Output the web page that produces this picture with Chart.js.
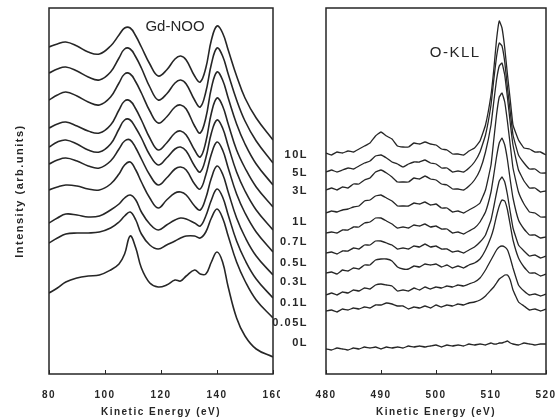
<!DOCTYPE html>
<html>
<head>
<meta charset="utf-8">
<script src="https://cdn.jsdelivr.net/npm/chart.js@4.4.1/dist/chart.umd.min.js"></script>
<style>
  html, body { margin: 0; padding: 0; background: #fff; }
  #wrap { position: relative; width: 560px; height: 420px; overflow: hidden; }
  .panel { position: absolute; top: 0; height: 420px; }
</style>
</head>
<body>
<div id="wrap">
  <div class="panel" style="left:0;width:280px"><canvas id="gd"></canvas></div>
  <div class="panel" style="left:262px;width:298px"><canvas id="ok"></canvas></div>
</div>
<script>
// oxygen exposure, top curve to bottom curve
const doses = ["10L", "5L", "3L", "1L", "0.7L", "0.5L", "0.3L", "0.1L", "0.05L", "0L"];
// where each dose label sits on the O-KLL intensity axis
const doseLabelLevels = [219, 201, 183, 152, 132, 111, 92, 71, 51, 31];

// Gd-NOO panel, kinetic energy (eV)
const gdEnergy = [80, 83, 86, 90, 94, 98, 102, 105, 107, 109, 111, 113, 116, 119, 122, 125, 127, 129, 132, 134, 136, 138, 140, 142, 144, 147, 150, 154, 160];
const gd10L  = [327, 330, 332, 328, 322, 320, 328, 339, 346, 346, 338, 327, 310, 298, 304, 315, 318, 314, 298, 292, 306, 334, 348, 341, 324, 298, 276, 256, 234];
const gd5L   = [301, 305, 307, 303, 297, 294, 302, 316, 325, 325, 317, 306, 287, 274, 280, 291, 294, 290, 274, 267, 282, 310, 326, 318, 300, 274, 253, 233, 211];
const gd3L   = [274, 279, 282, 278, 272, 269, 277, 291, 300, 300, 292, 281, 263, 251, 257, 267, 269, 265, 248, 241, 256, 286, 302, 294, 276, 250, 230, 210, 189];
const gd1L   = [246, 250, 252, 248, 243, 241, 249, 264, 273, 273, 265, 254, 236, 224, 231, 241, 243, 239, 224, 217, 232, 261, 276, 268, 250, 224, 206, 187, 167];
const gd07L  = [227, 232, 234, 230, 224, 222, 230, 245, 254, 254, 246, 236, 219, 209, 216, 225, 227, 223, 208, 202, 216, 241, 254, 246, 228, 202, 183, 164, 144];
const gd05L  = [210, 214, 216, 213, 208, 206, 213, 225, 233, 234, 226, 215, 199, 189, 196, 205, 207, 204, 190, 185, 199, 220, 232, 224, 206, 180, 161, 142, 122];
const gd03L  = [184, 187, 189, 188, 185, 184, 190, 200, 209, 212, 204, 192, 176, 166, 174, 181, 182, 179, 168, 164, 176, 196, 208, 200, 182, 156, 137, 118, 99];
const gd01L  = [151, 156, 160, 159, 157, 158, 164, 170, 176, 179, 174, 162, 150, 144, 149, 154, 156, 155, 151, 148, 158, 174, 185, 177, 159, 133, 114, 95, 76];
const gd005L = [131, 136, 140, 141, 141, 142, 146, 152, 158, 162, 154, 140, 129, 125, 129, 133, 136, 138, 138, 136, 142, 156, 165, 156, 138, 112, 93, 74, 56];
const gd0L   = [81, 86, 92, 96, 98, 99, 104, 110, 120, 138, 126, 106, 91, 87, 89, 94, 93, 98, 104, 100, 100, 112, 122, 112, 87, 56, 38, 25, 17];

// O-KLL panel, kinetic energy (eV)
const oEnergy = [480, 481, 482, 483, 484, 485, 486, 487, 488, 489, 490, 491, 492, 493, 494, 495, 496, 497, 498, 499, 500, 501, 502, 503, 504, 505, 506,
                 507, 508, 509, 510, 510.5, 511, 511.5, 512, 512.5, 513, 513.5, 514, 515, 516, 517, 518, 519, 520];
const o10L  = [221, 219, 222, 221, 223, 222, 225, 228, 231, 238, 242, 238, 235, 228, 227, 227, 231, 230, 232, 230, 229, 225, 224, 220, 220, 219, 223,
               226, 233, 249, 279, 304, 334, 353, 346, 326, 299, 274, 249, 234, 226, 225, 222, 222, 219];
const o5L   = [202, 204, 202, 204, 206, 205, 208, 211, 213, 218, 219, 216, 212, 210, 207, 210, 212, 212, 214, 211, 210, 206, 206, 202, 203, 202, 206,
               212, 222, 239, 269, 294, 317, 331, 328, 312, 286, 262, 239, 219, 211, 205, 205, 201, 201];
const o3L   = [184, 186, 184, 187, 186, 190, 190, 194, 196, 202, 204, 201, 197, 192, 192, 192, 196, 195, 198, 195, 194, 190, 189, 185, 185, 184, 188,
               194, 204, 222, 249, 272, 294, 308, 311, 299, 276, 251, 229, 204, 193, 186, 186, 182, 183];
const o1L   = [161, 163, 162, 164, 165, 167, 168, 173, 174, 178, 179, 176, 173, 168, 168, 168, 171, 170, 172, 169, 170, 166, 166, 162, 163, 161, 164,
               167, 171, 184, 209, 234, 259, 277, 281, 272, 252, 229, 206, 182, 170, 162, 161, 157, 157];
const o07L  = [141, 142, 141, 144, 144, 147, 147, 151, 152, 156, 156, 153, 150, 146, 147, 146, 149, 148, 150, 147, 148, 145, 145, 141, 142, 140, 143,
               146, 152, 162, 182, 199, 217, 231, 236, 229, 214, 194, 176, 154, 145, 139, 139, 136, 137];
const o05L  = [121, 122, 120, 123, 123, 126, 125, 129, 129, 133, 133, 131, 129, 125, 126, 125, 128, 127, 130, 127, 128, 125, 125, 122, 123, 121, 124,
               127, 132, 139, 154, 167, 181, 193, 197, 192, 179, 162, 146, 129, 123, 118, 119, 116, 118];
const o03L  = [101, 102, 100, 104, 103, 106, 105, 109, 109, 114, 115, 115, 113, 107, 105, 105, 108, 107, 110, 109, 110, 107, 109, 106, 108, 106, 109,
               111, 115, 124, 137, 146, 158, 168, 174, 173, 164, 149, 134, 116, 107, 101, 101, 98, 100];
const o01L  = [79, 81, 79, 82, 81, 84, 83, 86, 85, 89, 90, 89, 88, 83, 84, 83, 86, 84, 87, 85, 87, 86, 88, 87, 89, 88, 90,
               92, 96, 104, 114, 119, 124, 127, 128, 127, 124, 116, 106, 89, 83, 79, 80, 78, 80];
const o005L = [63, 64, 62, 65, 64, 66, 65, 67, 66, 69, 69, 71, 70, 68, 68, 65, 67, 66, 68, 66, 69, 67, 69, 68, 70, 69, 71,
               72, 74, 78, 84, 87, 91, 95, 97, 99, 99, 94, 84, 72, 68, 64, 65, 63, 65];
const o0L   = [25, 24, 26, 25, 24, 26, 25, 27, 26, 27, 25, 27, 26, 27, 26, 28, 27, 28, 27, 28, 29, 27, 29, 28, 29, 28, 30,
               29, 30, 29, 31, 30, 30, 31, 31, 32, 33, 31, 30, 29, 31, 30, 29, 30, 30];

const gdSeries = [gd10L, gd5L, gd3L, gd1L, gd07L, gd05L, gd03L, gd01L, gd005L, gd0L];
const oSeries = [o10L, o5L, o3L, o1L, o07L, o05L, o03L, o01L, o005L, o0L];

const INK = "#262626";
const FONT = "'Liberation Sans', Arial, sans-serif";

const framePlugin = {
  id: "frame",
  beforeDraw(chart) {
    chart.ctx.letterSpacing = "1.5px";
  },
  afterDraw(chart, args, opts) {
    const { ctx, chartArea: a, scales } = chart;
    ctx.save();
    ctx.strokeStyle = INK;
    ctx.lineWidth = 1.5;
    ctx.strokeRect(a.left, a.top, a.right - a.left, a.bottom - a.top);
    // short inward tick marks on the bottom edge
    ctx.lineWidth = 1;
    ctx.beginPath();
    scales.x.ticks.forEach(t => {
      const px = Math.round(scales.x.getPixelForValue(t.value)) + 0.5;
      ctx.moveTo(px, a.bottom);
      ctx.lineTo(px, a.bottom - 4);
    });
    ctx.stroke();
    ctx.fillStyle = INK;
    ctx.font = "15px " + FONT;
    ctx.letterSpacing = opts.spacing;
    ctx.textAlign = "center";
    ctx.textBaseline = "middle";
    ctx.fillText(opts.text, scales.x.getPixelForValue(opts.at[0]), scales.y.getPixelForValue(opts.at[1]));
    ctx.restore();
  }
};

function makeDatasets(energy, series, width) {
  return series.map((vals, i) => ({
    label: doses[i],
    data: vals.map((v, j) => ({ x: energy[j], y: v })),
    borderColor: INK,
    borderWidth: width,
    pointRadius: 0,
    fill: false
  }));
}

function xAxis(min, max, step) {
  return {
    type: "linear",
    min: min,
    max: max,
    ticks: { stepSize: step, color: INK, font: { family: FONT, size: 10, weight: "bold" }, padding: 7, maxRotation: 0, autoSkip: false },
    grid: { display: false },
    border: { display: false },
    title: { display: true, text: "Kinetic Energy (eV)", color: INK, font: { family: FONT, size: 10, weight: "bold" }, padding: { top: 0, bottom: 2 } },
    afterFit: s => { s.height = 46; s.paddingLeft = 0; s.paddingRight = 0; }
  };
}

new Chart(document.getElementById("gd"), {
  type: "line",
  data: { datasets: makeDatasets(gdEnergy, gdSeries, 1.6) },
  options: {
    responsive: true,
    maintainAspectRatio: false,
    animation: false,
    layout: { padding: { top: 8, right: 7, left: 0, bottom: 0 } },
    elements: { line: { tension: 0.4 } },
    plugins: { legend: { display: false }, tooltip: { enabled: false }, frame: { text: "Gd-NOO", at: [125, 347], spacing: "0px" } },
    scales: {
      x: xAxis(80, 160, 20),
      y: {
        min: 0, max: 366,
        ticks: { display: false },
        grid: { display: false },
        border: { display: false },
        title: { display: true, text: "Intensity (arb.units)", color: INK, font: { family: FONT, size: 11, weight: "bold" }, padding: { top: 13, bottom: 0 } },
        afterFit: s => { s.width = 49; s.paddingTop = 0; s.paddingBottom = 0; }
      }
    }
  },
  plugins: [framePlugin]
});

new Chart(document.getElementById("ok"), {
  type: "line",
  data: { datasets: makeDatasets(oEnergy, oSeries, 1.3) },
  options: {
    responsive: true,
    maintainAspectRatio: false,
    animation: false,
    layout: { padding: { top: 8, right: 14, left: 0, bottom: 0 } },
    elements: { line: { tension: 0.1 } },
    plugins: { legend: { display: false }, tooltip: { enabled: false }, frame: { text: "O-KLL", at: [503.5, 321], spacing: "1.5px" } },
    scales: {
      x: xAxis(480, 520, 10),
      y: {
        min: 0, max: 366,
        afterBuildTicks: s => { s.ticks = doseLabelLevels.map(v => ({ value: v })); },
        ticks: { color: INK, font: { family: FONT, size: 11, weight: "bold" }, padding: 10, autoSkip: false, callback: (v, i) => doses[i] },
        grid: { display: false },
        border: { display: false },
        afterFit: s => { s.width = 64; s.paddingTop = 0; s.paddingBottom = 0; }
      }
    }
  },
  plugins: [framePlugin]
});
</script>
</body>
</html>
